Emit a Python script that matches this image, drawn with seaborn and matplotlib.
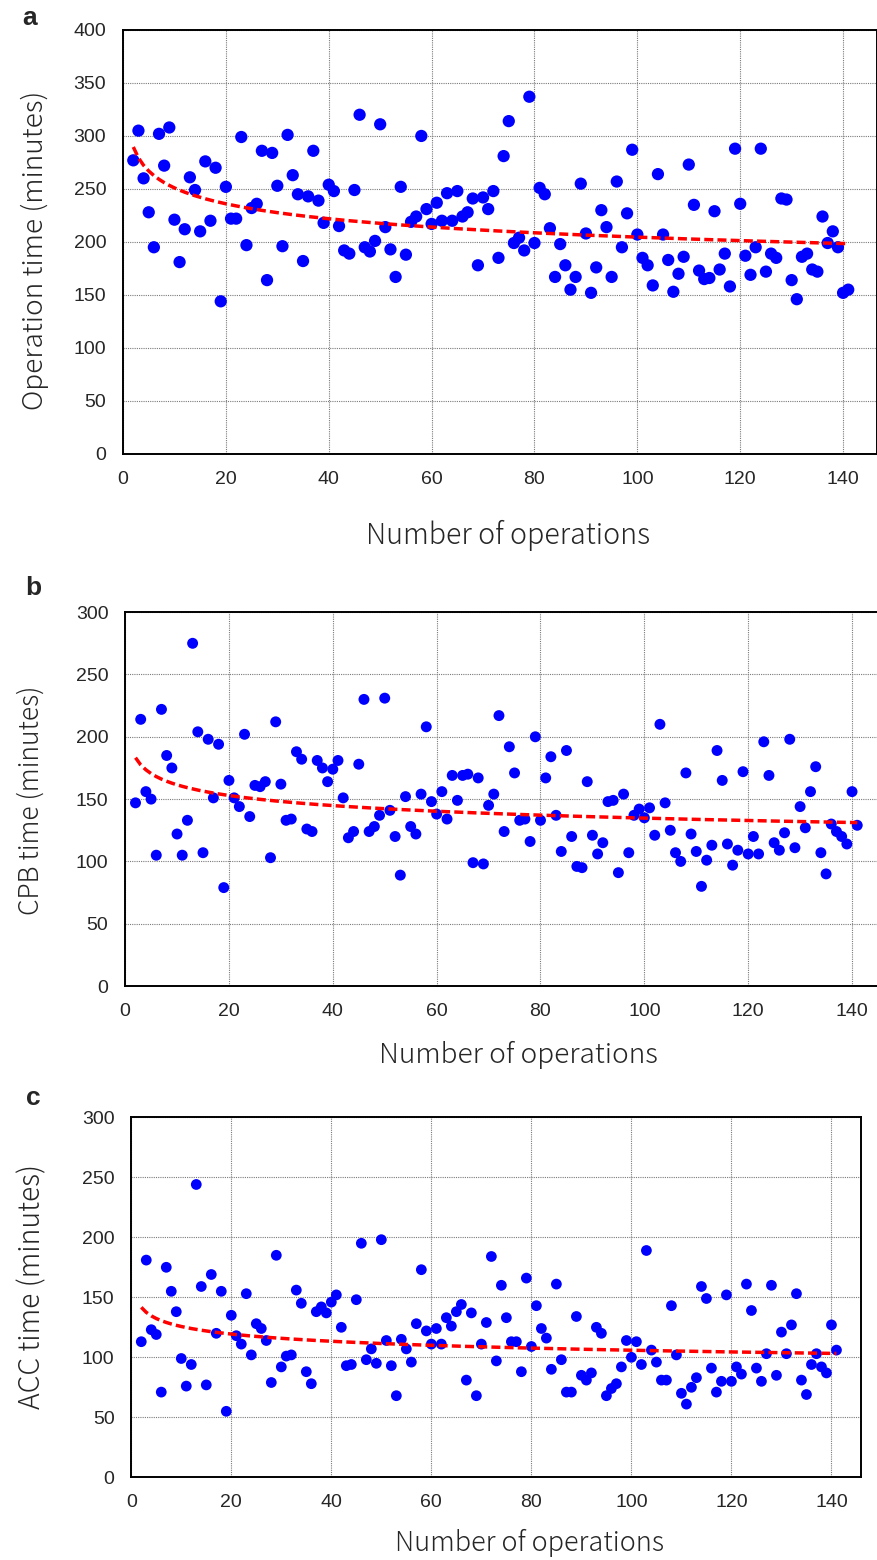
import numpy as np
import pandas as pd
import seaborn as sns
import matplotlib
matplotlib.use('Agg')
import matplotlib.pyplot as plt

# numero da operacao (2..141)
operacoes = np.arange(2, 142)

# a: tempo operatorio (minutos)
tempo_operacao = [
    277, 305, 260, 228, 195, 302, 272, 308, 221, 181,
    212, 261, 249, 210, 276, 220, 270, 144, 252, 222,
    222, 299, 197, 232, 236, 286, 164, 284, 253, 196,
    301, 263, 245, 182, 243, 286, 239, 218, 254, 248,
    215, 192, 189, 249, 320, 195, 191, 201, 311, 214,
    193, 167, 252, 188, 219, 224, 300, 231, 217, 237,
    220, 246, 220, 248, 224, 228, 241, 178, 242, 231,
    248, 185, 281, 314, 199, 204, 192, 337, 199, 251,
    245, 213, 167, 198, 178, 155, 167, 255, 208, 152,
    176, 230, 214, 167, 257, 195, 227, 287, 207, 185,
    178, 159, 264, 207, 183, 153, 170, 186, 273, 235,
    173, 165, 166, 229, 174, 189, 158, 288, 236, 187,
    169, 195, 288, 172, 189, 185, 241, 240, 164, 146,
    186, 189, 174, 172, 224, 199, 210, 195, 152, 155,
]

# b: tempo de CPB (minutos)
tempo_cpb = [
    147, 214, 156, 150, 105, 222, 185, 175, 122, 105,
    133, 275, 204, 107, 198, 151, 194, 79, 165, 151,
    144, 202, 136, 161, 160, 164, 103, 212, 162, 133,
    134, 188, 182, 126, 124, 181, 175, 164, 174, 181,
    151, 119, 124, 178, 230, 124, 128, 137, 231, 141,
    120, 89, 152, 128, 122, 154, 208, 148, 138, 156,
    134, 169, 149, 169, 170, 99, 167, 98, 145, 154,
    217, 124, 192, 171, 133, 134, 116, 200, 133, 167,
    184, 137, 108, 189, 120, 96, 95, 164, 121, 106,
    115, 148, 149, 91, 154, 107, 137, 142, 135, 143,
    121, 210, 147, 125, 107, 100, 171, 122, 108, 80,
    101, 113, 189, 165, 114, 97, 109, 172, 106, 120,
    106, 196, 169, 115, 109, 123, 198, 111, 144, 127,
    156, 176, 107, 90, 130, 124, 120, 114, 156, 129,
]

# c: tempo de ACC (minutos)
tempo_acc = [
    113, 181, 123, 119, 71, 175, 155, 138, 99, 76,
    94, 244, 159, 77, 169, 120, 155, 55, 135, 118,
    111, 153, 102, 128, 124, 114, 79, 185, 92, 101,
    102, 156, 145, 88, 78, 138, 142, 137, 146, 152,
    125, 93, 94, 148, 195, 98, 107, 95, 198, 114,
    93, 68, 115, 107, 96, 128, 173, 122, 111, 124,
    111, 133, 126, 138, 144, 81, 137, 68, 111, 129,
    184, 97, 160, 133, 113, 113, 88, 166, 109, 143,
    124, 116, 90, 161, 98, 71, 71, 134, 85, 81,
    87, 125, 120, 68, 74, 78, 92, 114, 100, 113,
    94, 189, 106, 96, 81, 81, 143, 102, 70, 61,
    75, 83, 159, 149, 91, 71, 80, 152, 80, 92,
    86, 161, 139, 91, 80, 103, 160, 85, 121, 103,
    127, 153, 81, 69, 94, 103, 92, 87, 127, 106,
]

letras = ["a", "b", "c"]
rotulos_y = ["Operation time (minutes)", "CPB time (minutes)", "ACC time (minutes)"]
rotulo_x = "Number of operations"

sns.set_style("white")
plt.rcParams['font.family'] = ['Liberation Sans', 'DejaVu Sans']
fonte_rotulo = ['Noto Sans CJK JP', 'DejaVu Sans']

fig = plt.figure(figsize=(8.78, 15.6), dpi=100)

# layout: [left, bottom, width, height], limites, tamanho do marcador, rotulos
paineis = [
    dict(pos=[0.1401, 0.7090, 0.8588, 0.2718], xmax=146.6, ymax=400, s=78,
         xlab=(0.511, -0.191), ylab=(-0.1167, 0.481), letra=(30, 18), spine_r=True,
         fx=20.6, fy=20.2),
    dict(pos=[0.1425, 0.3679, 0.8575, 0.2397], xmax=145.0, ymax=300, s=62,
         xlab=(0.522, -0.1845), ylab=(-0.125, 0.497), letra=(33, 588), spine_r=False,
         fx=20.2, fy=19.0),
    dict(pos=[0.1495, 0.0530, 0.8311, 0.2308], xmax=145.9, ymax=300, s=60,
         xlab=(0.546, -0.1825), ylab=(-0.136, 0.531), letra=(33, 1098), spine_r=True,
         fx=19.5, fy=20.4),
]
series = [tempo_operacao, tempo_cpb, tempo_acc]

for i, (cfg, valores) in enumerate(zip(paineis, series)):
    ax = fig.add_axes(cfg['pos'])
    df = pd.DataFrame({'x': operacoes, 'y': valores})

    # linha de tendencia potencia (y = a * x^b), ajuste em log-log
    b, ln_a = np.polyfit(np.log(df['x']), np.log(df['y']), 1)
    df['trend'] = np.exp(ln_a) * df['x'] ** b

    ax.grid(True, color='#7a7a7a', linestyle=(0, (1, 1)), linewidth=0.8, zorder=0)
    ax.set_axisbelow(True)
    sns.scatterplot(data=df, x='x', y='y', ax=ax, color='#0000FF', s=cfg['s'],
                    edgecolor='none', linewidth=0, zorder=3)
    sns.lineplot(data=df, x='x', y='trend', ax=ax, color='#FF0000', linewidth=2.5,
                 zorder=4)
    ax.lines[-1].set_dashes((2.6, 1.2))

    ax.set_xlim(0, cfg['xmax'])
    ax.set_ylim(0, cfg['ymax'])
    ax.set_xticks(range(0, 141, 20))
    ax.set_yticks(range(0, cfg['ymax'] + 1, 50))
    ax.tick_params(axis='both', length=0, labelsize=14, pad=12)

    for lado in ['left', 'bottom', 'top', 'right']:
        ax.spines[lado].set_color('black')
        ax.spines[lado].set_linewidth(1.4)
    ax.spines['right'].set_visible(cfg['spine_r'])

    ax.set_xlabel(rotulo_x, fontsize=cfg['fx'], family=fonte_rotulo,
                  fontweight='light', va='center', ha='center')
    ax.xaxis.set_label_coords(*cfg['xlab'])
    ax.set_ylabel(rotulos_y[i], fontsize=cfg['fy'], family=fonte_rotulo,
                  fontweight='light', va='center', ha='center')
    ax.yaxis.set_label_coords(*cfg['ylab'])

    lx, ly = cfg['letra']
    fig.text(lx / 878, 1 - ly / 1560, letras[i], fontsize=19, fontweight='bold',
             ha='center', va='center')

fig.savefig('out.png', dpi=100)
